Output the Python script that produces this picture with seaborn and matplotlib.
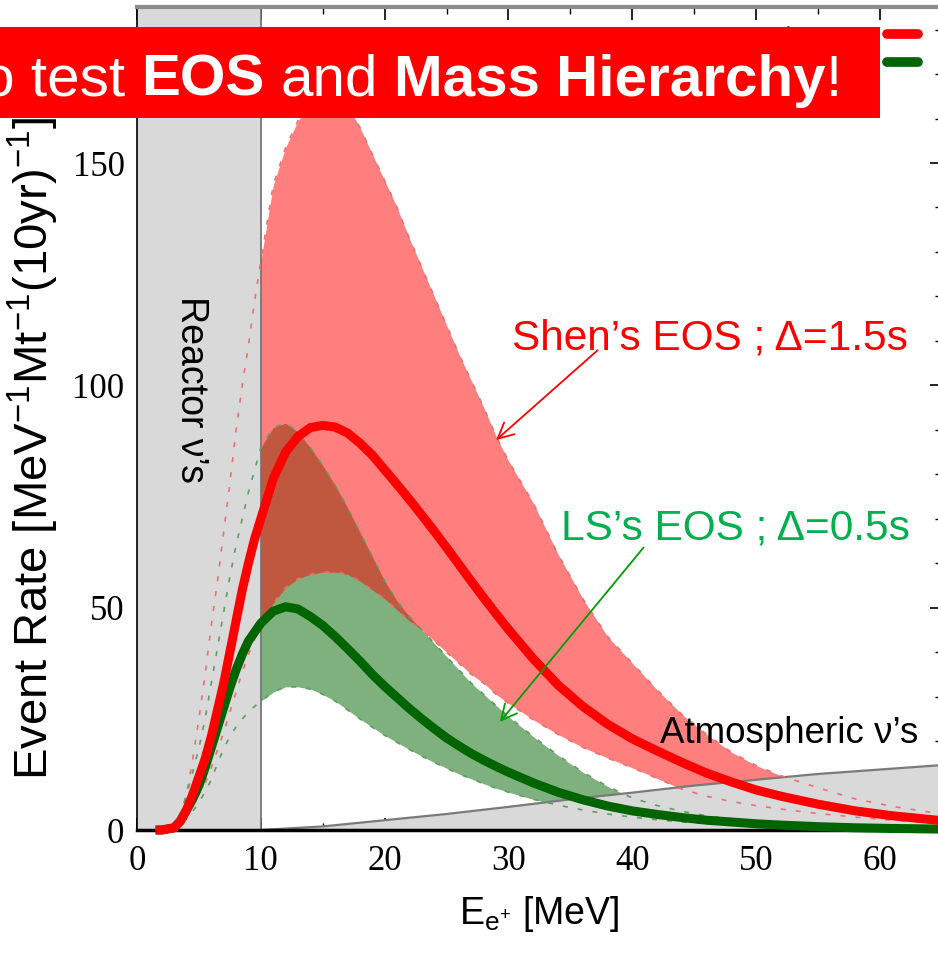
import numpy as np
import pandas as pd
import matplotlib
matplotlib.use("Agg")
import matplotlib.pyplot as plt
import seaborn as sns
from matplotlib.patches import Rectangle
from matplotlib.lines import Line2D
from matplotlib.ticker import MultipleLocator

# Positron energy grid [MeV]
energy = [1.5, 2, 3, 3.5, 4, 4.5, 5, 5.5, 6, 6.5, 7, 7.5, 8, 8.5, 9, 9.5, 10,
          11, 12, 13, 14, 15, 16, 17, 18, 19, 20, 21, 22, 23, 24, 25, 26, 27,
          28, 29, 30, 32, 34, 36, 38, 40, 42, 44, 46, 48, 50, 52, 55, 58, 61, 65]

# Shen EOS, Delta = 1.5 s : central rate and band edges
shen_central = [0, 0, 0.5, 2, 4.5, 8, 12, 16, 21, 27, 33, 40, 47, 54, 60, 65.5, 70,
                79, 85, 88.5, 90.5, 91, 90.6, 89.3, 87, 84.3, 81, 77.7, 74.3, 70.8, 67.2, 63.5, 59.7, 55.9,
                52.2, 48.6, 45.1, 38.5, 32.6, 27.8, 23.8, 20.5, 17.8, 15.2, 12.8, 10.8, 9, 7.6, 5.8, 4.3, 3.2, 2.1]
shen_upper = [0, 0, 0.5, 3, 8, 16, 25, 35, 46, 56, 67, 78, 90, 100, 109, 119, 128,
              145, 153.5, 159.5, 163, 165, 165.5, 163, 158, 152, 146, 140, 133, 126.5, 120, 113.5, 107, 101,
              95, 88.5, 83, 73.5, 62, 52, 43.5, 37.5, 31.5, 26, 21.5, 17.5, 14.5, 12.2, 9.5, 7, 5.3, 3.6]
shen_lower = [0, 0, 0.3, 1.2, 3, 5.3, 8, 10.5, 14, 18, 22, 26.5, 31, 35.5, 39.5, 43, 46,
              51, 54.5, 56.5, 57.5, 58, 58, 57.5, 56, 54, 52, 49.5, 47, 45, 42.5, 40, 37.5, 35,
              33, 30.5, 28.5, 24.8, 21.5, 18.6, 16.2, 14, 11.6, 9.2, 7.6, 6.4, 5.5, 4.7, 3.7, 2.9, 2.2, 1.6]

# LS EOS, Delta = 0.5 s : central rate and band edges
ls_central = [0, 0, 0.5, 2, 4.5, 7, 10, 14, 18.5, 23, 27.5, 32, 36, 39.5, 42.5, 44.5, 46.5,
              49.2, 50.2, 49.7, 48, 46, 43.5, 40.8, 38, 35, 32.3, 29.8, 27.3, 25, 22.8, 20.7, 18.9, 17.2,
              15.7, 14.3, 13, 10.6, 8.5, 6.8, 5.4, 4.3, 3.5, 2.8, 2.2, 1.8, 1.4, 1.1, 0.75, 0.5, 0.35, 0.2]
ls_upper = [0, 0, 0.8, 3.5, 8, 13, 18.5, 25, 33, 41, 49, 57, 64, 70, 76, 81, 86,
            90.5, 91.5, 89.5, 86, 82, 77.5, 72.5, 67, 61.5, 56, 51.5, 48, 45, 42, 39, 36, 33,
            30.5, 28, 25.5, 21, 16.8, 13, 9.8, 7.2, 5.5, 4.2, 3.2, 2.5, 2, 1.6, 1.1, 0.8, 0.55, 0.35]
ls_lower = [0, 0, 0.2, 1, 2.5, 4.2, 6.2, 8.6, 11.3, 15, 18.3, 21, 23.2, 25, 26.5, 27.8, 29,
            31, 32.2, 32.2, 31.7, 30.5, 29, 27, 25, 23.1, 21.3, 19.7, 18.1, 16.6, 15.2, 13.9, 12.6, 11.5,
            10.4, 9.4, 8.5, 6.9, 5.6, 4.5, 3.6, 2.9, 2.3, 1.8, 1.45, 1.15, 0.9, 0.7, 0.5, 0.35, 0.25, 0.15]

# Atmospheric neutrino background
atm_energy = [10, 15, 20, 25, 30, 35, 40, 45, 50, 55, 60, 65]
atm_rate = [0, 0.8, 2.2, 3.6, 5.2, 6.9, 8.4, 10.0, 11.3, 12.6, 13.6, 14.6]

# Axis ticks
x_major = 10
x_minor = 5
y_major = 50
y_minor = 10

RED = "#ff0000"
DKGREEN = "#006400"
GRAY = "#d9d9d9"

sns.set_theme(style="ticks")
plt.rcParams["font.family"] = ["Liberation Sans", "DejaVu Sans"]
plt.rcParams["mathtext.fontset"] = "custom"
plt.rcParams["mathtext.rm"] = "Liberation Sans"
plt.rcParams["mathtext.it"] = "Liberation Sans:italic"
plt.rcParams["mathtext.default"] = "regular"

W, H = 938, 955
fig = plt.figure(figsize=(W / 100, H / 100), dpi=100)
ax = fig.add_axes([137 / W, 125 / H, 804.9 / W, 822.6 / H])

e = np.array(energy)
m = e >= 10

# uncertainty bands (visible above the reactor window)
ax.fill_between(e[m], np.array(ls_lower)[m], np.array(ls_upper)[m],
                color=DKGREEN, alpha=0.5, lw=0, zorder=1)
ax.fill_between(e[m], np.array(shen_lower)[m], np.array(shen_upper)[m],
                color=RED, alpha=0.5, lw=0, zorder=1.1)

# reactor window and atmospheric background
ax.axvspan(0, 10, color=GRAY, lw=0, zorder=2)
ax.axvline(10, color="#6e6e6e", lw=1.2, zorder=2.1)
ax.fill_between(atm_energy, 0, atm_rate, color=GRAY, lw=0, zorder=2)
ax.plot(atm_energy, atm_rate, color="#7a7a7a", lw=1.6, zorder=2.2)

# dashed band edges
for edge, col in [(shen_upper, "#ee6f6f"), (shen_lower, "#ee6f6f"),
                  (ls_upper, "#5e9e5e"), (ls_lower, "#5e9e5e")]:
    ax.plot(e, edge, ls=(0, (3, 6)), lw=1.2, color=col, zorder=3)

# central predictions
df = pd.DataFrame({
    "energy": energy * 2,
    "rate": ls_central + shen_central,
    "model": ["LS"] * len(energy) + ["Shen"] * len(energy),
})
n_before = len(ax.lines)
sns.lineplot(data=df, x="energy", y="rate", hue="model", hue_order=["LS", "Shen"],
             palette={"LS": DKGREEN, "Shen": RED}, linewidth=6.5, legend=False,
             estimator=None, sort=False, ax=ax)
for ln in ax.lines[n_before:]:
    ln.set_zorder(4)
    ln.set_clip_on(False)
    ln.set_solid_capstyle("butt")
    ln.set_solid_joinstyle("round")

ax.set_xlim(0, 65)
ax.set_ylim(0, 185)
ax.xaxis.set_major_locator(MultipleLocator(x_major))
ax.xaxis.set_minor_locator(MultipleLocator(x_minor))
ax.yaxis.set_major_locator(MultipleLocator(y_major))
ax.yaxis.set_minor_locator(MultipleLocator(y_minor))
ax.tick_params(which="both", direction="in", top=True, right=True, color="black",
               labelcolor="black", labelsize=25, labelfontfamily="Liberation Serif")
ax.tick_params(which="major", length=9, width=1.2)
ax.tick_params(which="minor", length=5, width=1.0)
ax.tick_params(axis="x", which="major", pad=11)
ax.tick_params(axis="y", which="major", pad=9)

for side, (col, lw) in {"top": ("#8c8c8c", 3.0), "bottom": ("black", 2.5),
                        "left": ("black", 1.2), "right": ("black", 1.2)}.items():
    ax.spines[side].set_color(col)
    ax.spines[side].set_linewidth(lw)

ax.set_xlabel("E$_{e^{+}}$ [MeV]", fontsize=27, color="black")
ax.xaxis.set_label_coords(0.5, -0.078)
ax.set_ylabel("Event Rate [MeV$^{-1}$Mt$^{-1}$(10yr)$^{-1}$]", fontsize=34,
              color="black", ha="left")
ax.yaxis.set_label_coords(-0.094, 0.061)

# labels inside the plot
ax.text(4.4, 99, "Reactor ν’s", rotation=-90, ha="center", va="center",
        fontsize=27, color="black", zorder=6)
ax.text(46.3, 110.6, "Shen’s EOS ; Δ=1.5s", ha="center", va="center",
        fontsize=30.5, color=RED, zorder=6)
ax.text(48.3, 67.9, "LS’s EOS ; Δ=0.5s", ha="center", va="center",
        fontsize=30.5, color="#00b050", zorder=6)
ax.text(52.7, 21.8, "Atmospheric ν’s", ha="center", va="center",
        fontsize=26.5, color="black", zorder=6)
ax.annotate("", xy=(29.0, 87.7), xytext=(37.2, 107.9),
            arrowprops=dict(arrowstyle="->", color=RED, lw=1.3, mutation_scale=28,
                            shrinkA=0, shrinkB=0), zorder=6)
ax.annotate("", xy=(29.3, 24.3), xytext=(40.9, 63.5),
            arrowprops=dict(arrowstyle="->", color="#00a000", lw=1.3, mutation_scale=28,
                            shrinkA=0, shrinkB=0), zorder=6)

# legend (mostly hidden behind the banner)
handles = [Line2D([], [], color=RED, lw=7), Line2D([], [], color=DKGREEN, lw=7)]
ax.legend(handles, ["Shen EOS", "LS EOS"], loc="upper right",
          bbox_to_anchor=(918 / W, 1 - 26 / H), bbox_transform=fig.transFigure,
          frameon=False, markerfirst=False, handlelength=1.4, fontsize=16,
          borderpad=0, borderaxespad=0, labelspacing=0.3, handletextpad=0.5,
          labelcolor="#444444")

# banner
ax.add_patch(Rectangle((0, 1 - 118 / H), 880 / W, 91 / H, transform=fig.transFigure,
                       facecolor=RED, edgecolor="none", zorder=20, clip_on=False))
fs_banner = 42
space = 0.278 * fs_banner
prev = ax.text(-47 / W, 1 - 108 / H, "To test", transform=fig.transFigure,
               fontsize=fs_banner, color="white", ha="left", va="bottom", zorder=21,
               clip_on=False)
for piece, weight, gap in [("EOS", "bold", space), ("and", "normal", space),
                           ("Mass Hierarchy", "bold", space), ("!", "normal", 0)]:
    prev = ax.annotate(piece, xy=(1, 0), xycoords=prev, xytext=(gap, 0),
                       textcoords="offset points", fontsize=fs_banner, fontweight=weight,
                       color="white", ha="left", va="bottom", zorder=21,
                       annotation_clip=False)

fig.savefig("out.png", dpi=100)
